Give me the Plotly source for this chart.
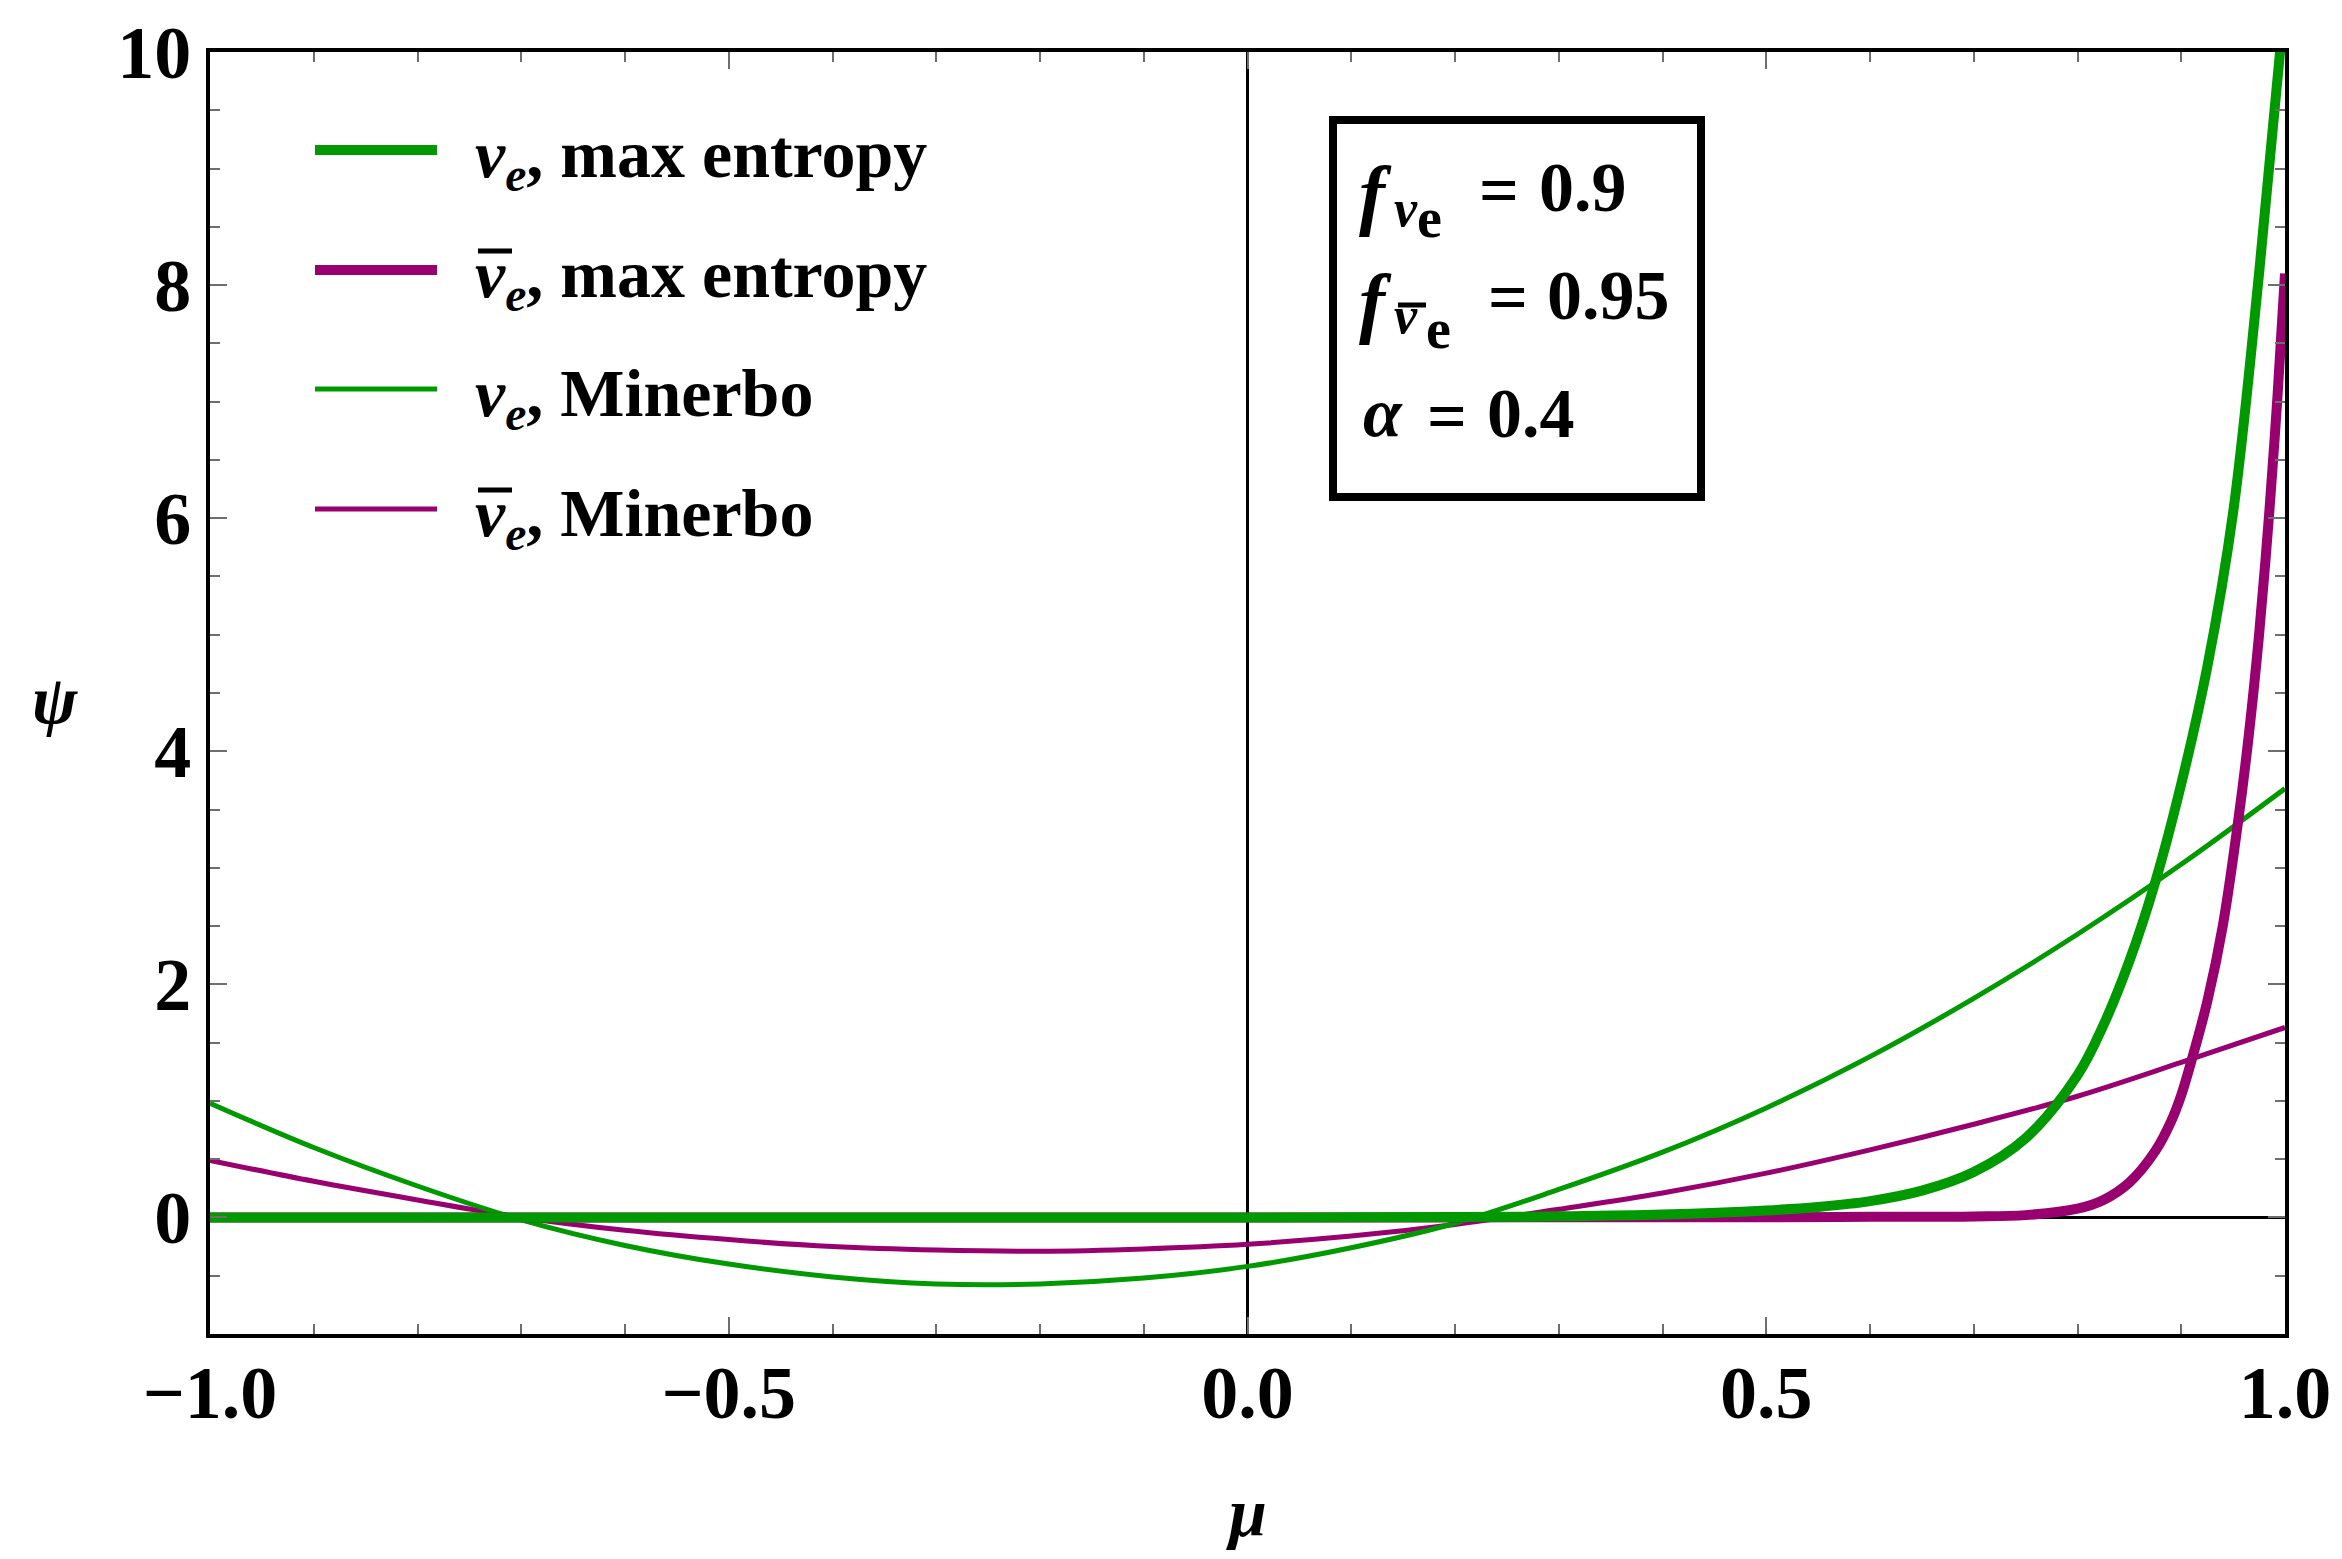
import plotly.graph_objects as go

# Angular distribution psi(mu): two-moment Minerbo closure vs. maximum-entropy closure
mu_minerbo = [-1.0, -0.9, -0.8, -0.7, -0.6, -0.5, -0.4, -0.3, -0.2, -0.1, 0.0,
              0.1, 0.2, 0.3, 0.4, 0.5, 0.6, 0.7, 0.8, 0.9, 1.0]
psi_nue_minerbo = [0.98, 0.60, 0.27, -0.02, -0.24, -0.40, -0.51, -0.57, -0.57, -0.52, -0.42,
                   -0.26, -0.05, 0.24, 0.56, 0.94, 1.38, 1.88, 2.43, 3.03, 3.68]
psi_nuebar_minerbo = [0.49, 0.31, 0.15, 0.00, -0.11, -0.19, -0.25, -0.28, -0.29, -0.27, -0.23,
                      -0.16, -0.06, 0.07, 0.21, 0.38, 0.58, 0.80, 1.04, 1.33, 1.63]

mu_maxent_nue = [-1.0, -0.5, 0.0, 0.2, 0.3, 0.4, 0.5, 0.55, 0.6, 0.65, 0.7, 0.75, 0.8,
                 0.825, 0.85, 0.875, 0.9, 0.925, 0.95, 0.975, 1.0]
psi_maxent_nue = [0.0, 0.0, 0.0, 0.003, 0.01, 0.025, 0.06, 0.09, 0.14, 0.23, 0.39, 0.68, 1.22,
                  1.65, 2.2, 2.88, 3.72, 4.72, 6.05, 8.1, 10.45]

mu_maxent_nuebar = [-1.0, -0.5, 0.0, 0.5, 0.6, 0.7, 0.75, 0.8, 0.825, 0.85, 0.875, 0.89,
                    0.9, 0.91, 0.925, 0.94, 0.955, 0.965, 0.975, 0.985, 0.993, 1.0]
psi_maxent_nuebar = [0.0, 0.0, 0.0, 0.002, 0.005, 0.008, 0.02, 0.075, 0.15, 0.30, 0.57, 0.82,
                     1.05, 1.35, 1.85, 2.5, 3.41, 4.13, 5.0, 6.07, 7.08, 8.1]

x_ticks = [-1.0, -0.5, 0.0, 0.5, 1.0]
y_ticks = [0, 2, 4, 6, 8, 10]

GREEN = "#009900"
PURPLE = "#99006F"
TICK_GRAY = "#6e6e6e"
FONT = "Liberation Serif"

W, H = 2342, 1559
L, R, T, B = 210, 2285, 52, 1334  # plot-area edges in pixels


def px(x):
    return (x - L) / (R - L)


def py(y):
    return (B - y) / (B - T)


def text_at(text, x, y, size, anchor="left"):
    fig.add_annotation(text=text, x=px(x), y=py(y), xref="paper", yref="paper",
                       showarrow=False, font=dict(family=FONT, size=size, color="black"),
                       xanchor=anchor, yanchor="middle", borderpad=0)


def bar_at(x0, x1, y, width=5):
    fig.add_shape(type="line", xref="paper", yref="paper",
                  x0=px(x0), x1=px(x1), y0=py(y), y1=py(y),
                  line=dict(color="black", width=width))


fig = go.Figure()

curves = [
    (mu_minerbo, psi_nuebar_minerbo, PURPLE, 5),
    (mu_minerbo, psi_nue_minerbo, GREEN, 5),
    (mu_maxent_nuebar, psi_maxent_nuebar, PURPLE, 10),
    (mu_maxent_nue, psi_maxent_nue, GREEN, 10),
]
for xs, ys, color, width in curves:
    fig.add_trace(go.Scatter(
        x=xs, y=ys, mode="lines",
        line=dict(color=color, width=width, shape="spline", smoothing=1.0),
        showlegend=False, hoverinfo="skip",
    ))

axis_common = dict(
    ticks="inside", ticklen=17, tickwidth=2, tickcolor=TICK_GRAY,
    showline=True, linecolor="black", linewidth=4, mirror="allticks",
    showgrid=False, zeroline=True, zerolinecolor="black",
    tickfont=dict(family=FONT, size=74, color="black", weight="bold"),
)

fig.update_layout(
    width=W, height=H,
    margin=dict(l=L, r=W - R, t=T, b=H - B, pad=0),
    paper_bgcolor="white", plot_bgcolor="white",
    font=dict(family=FONT, color="black"),
    showlegend=False,
    xaxis=dict(
        range=[-1, 1], tickmode="array", tickvals=x_ticks,
        ticktext=[f"{v:.1f}".replace("-", "\u2212") for v in x_ticks],
        minor=dict(dtick=0.1, tick0=-1, ticks="inside", ticklen=10, tickwidth=2,
                   tickcolor=TICK_GRAY, showgrid=False),
        zerolinewidth=2.5, ticklabelstandoff=-9,
        **axis_common,
    ),
    yaxis=dict(
        range=[-1, 10], tickmode="array", tickvals=y_ticks,
        ticktext=[str(v) for v in y_ticks],
        minor=dict(dtick=0.5, tick0=0, ticks="inside", ticklen=10, tickwidth=2,
                   tickcolor=TICK_GRAY, showgrid=False),
        zerolinewidth=3, ticklabelstandoff=0,
        **axis_common,
    ),
)

# Axis titles
text_at("<b><i>ψ</i></b>", 55, 700, 68, anchor="center")
text_at("<b><i>μ</i></b>", 1246, 1513, 68, anchor="center")

# Legend rows: (label, colour, line width, row centre, has overbar)
legend_rows = [
    ("<b><i>ν<sub>e</sub></i>, max entropy</b>", GREEN, 10, 150, False),
    ("<b><i>ν<sub>e</sub></i>, max entropy</b>", PURPLE, 10, 270, True),
    ("<b><i>ν<sub>e</sub></i>, Minerbo</b>", GREEN, 5, 389, False),
    ("<b><i>ν<sub>e</sub></i>, Minerbo</b>", PURPLE, 5, 509, True),
]
for label, color, width, yc, overbar in legend_rows:
    fig.add_shape(type="line", xref="paper", yref="paper",
                  x0=px(315), x1=px(437), y0=py(yc), y1=py(yc),
                  line=dict(color=color, width=width))
    text_at(label, 474, yc + 8, 68)
    if overbar:
        bar_at(478, 512, yc - 19, width=5)

# Parameter box
fig.add_shape(type="rect", xref="paper", yref="paper",
              x0=px(1333), x1=px(1701), y0=py(120), y1=py(497),
              line=dict(color="black", width=8), fillcolor="white")

# f_{nu_e} = 0.9
text_at("<b><i>f</i></b>", 1358, 194, 78)
text_at("<b><i>ν</i></b>", 1393, 209, 52)
text_at("<b>e</b>", 1416, 218, 56)
text_at("<b>=</b>", 1478, 190, 70)
text_at("<b>0.9</b>", 1538, 188, 70)

# f_{nubar_e} = 0.95
text_at("<b><i>f</i></b>", 1358, 301, 78)
text_at("<b><i>ν</i></b>", 1393, 315, 52)
bar_at(1398, 1426, 305, width=5)
text_at("<b>e</b>", 1425, 329, 56)
text_at("<b>=</b>", 1487, 297, 70)
text_at("<b>0.95</b>", 1546, 295, 70)

# alpha = 0.4
text_at("<b><i>α</i></b>", 1362, 413, 70)
text_at("<b>=</b>", 1426, 416, 70)
text_at("<b>0.4</b>", 1486, 414, 70)

fig.write_html("out.html")
